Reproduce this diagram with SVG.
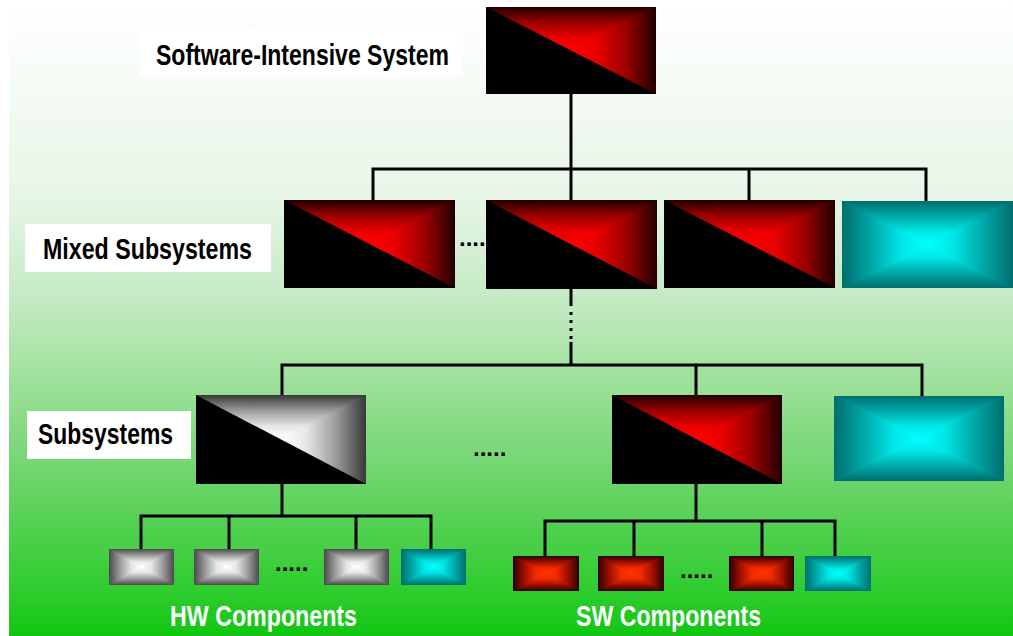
<svg xmlns="http://www.w3.org/2000/svg" width="1013" height="636" viewBox="0 0 1013 636">
  <defs>
    <!-- page background -->
    <linearGradient id="bg" x1="0" y1="0" x2="0" y2="1">
      <stop offset="0" stop-color="#ffffff"/>
      <stop offset="0.3" stop-color="#e8f6e8"/>
      <stop offset="0.47" stop-color="#c4eac4"/>
      <stop offset="0.57" stop-color="#a8e3a4"/>
      <stop offset="0.75" stop-color="#6ed46c"/>
      <stop offset="0.93" stop-color="#2ecc2e"/>
      <stop offset="1" stop-color="#12c612"/>
    </linearGradient>

    <!-- "from centre" shading: a symmetric horizontal fill underneath,
         with top/bottom triangles shaded vertically on top of it -->
    <linearGradient id="red-h" x1="0" y1="0" x2="1" y2="0">
      <stop offset="0" stop-color="#200000"/>
      <stop offset="0.175" stop-color="#9a0000"/>
      <stop offset="0.35" stop-color="#e80000"/>
      <stop offset="0.5" stop-color="#ff0000"/>
      <stop offset="0.65" stop-color="#e80000"/>
      <stop offset="0.825" stop-color="#9a0000"/>
      <stop offset="1" stop-color="#200000"/>
    </linearGradient>
    <linearGradient id="red-t" x1="0" y1="0" x2="0" y2="1">
      <stop offset="0" stop-color="#200000"/>
      <stop offset="0.35" stop-color="#9a0000"/>
      <stop offset="0.7" stop-color="#e80000"/>
      <stop offset="1" stop-color="#ff0000"/>
    </linearGradient>

    <linearGradient id="gry-h" x1="0" y1="0" x2="1" y2="0">
      <stop offset="0" stop-color="#383838"/>
      <stop offset="0.175" stop-color="#9a9a9a"/>
      <stop offset="0.35" stop-color="#e6e6e6"/>
      <stop offset="0.5" stop-color="#ffffff"/>
      <stop offset="0.65" stop-color="#e6e6e6"/>
      <stop offset="0.825" stop-color="#9a9a9a"/>
      <stop offset="1" stop-color="#383838"/>
    </linearGradient>
    <linearGradient id="gry-t" x1="0" y1="0" x2="0" y2="1">
      <stop offset="0" stop-color="#383838"/>
      <stop offset="0.35" stop-color="#9a9a9a"/>
      <stop offset="0.7" stop-color="#e6e6e6"/>
      <stop offset="1" stop-color="#ffffff"/>
    </linearGradient>

    <linearGradient id="cyn-h" x1="0" y1="0" x2="1" y2="0">
      <stop offset="0" stop-color="#006e6e"/>
      <stop offset="0.175" stop-color="#00a8a8"/>
      <stop offset="0.35" stop-color="#00e6e6"/>
      <stop offset="0.5" stop-color="#00ffff"/>
      <stop offset="0.65" stop-color="#00e6e6"/>
      <stop offset="0.825" stop-color="#00a8a8"/>
      <stop offset="1" stop-color="#006e6e"/>
    </linearGradient>
    <linearGradient id="cyn-t" x1="0" y1="0" x2="0" y2="1">
      <stop offset="0" stop-color="#006e6e"/>
      <stop offset="0.35" stop-color="#00a8a8"/>
      <stop offset="0.7" stop-color="#00e6e6"/>
      <stop offset="1" stop-color="#00ffff"/>
    </linearGradient>
    <linearGradient id="cyn-b" href="#cyn-t" x1="0" y1="1" x2="0" y2="0"/>

    <linearGradient id="sgr-h" x1="0" y1="0" x2="1" y2="0">
      <stop offset="0" stop-color="#4a4a4a"/>
      <stop offset="0.175" stop-color="#9c9c9c"/>
      <stop offset="0.35" stop-color="#e6e6e6"/>
      <stop offset="0.5" stop-color="#ffffff"/>
      <stop offset="0.65" stop-color="#e6e6e6"/>
      <stop offset="0.825" stop-color="#9c9c9c"/>
      <stop offset="1" stop-color="#4a4a4a"/>
    </linearGradient>
    <linearGradient id="sgr-t" x1="0" y1="0" x2="0" y2="1">
      <stop offset="0" stop-color="#4a4a4a"/>
      <stop offset="0.35" stop-color="#9c9c9c"/>
      <stop offset="0.7" stop-color="#e6e6e6"/>
      <stop offset="1" stop-color="#ffffff"/>
    </linearGradient>
    <linearGradient id="sgr-b" href="#sgr-t" x1="0" y1="1" x2="0" y2="0"/>

    <linearGradient id="org-h" x1="0" y1="0" x2="1" y2="0">
      <stop offset="0" stop-color="#2a0000"/>
      <stop offset="0.175" stop-color="#a01000"/>
      <stop offset="0.35" stop-color="#f02a00"/>
      <stop offset="0.5" stop-color="#ff3300"/>
      <stop offset="0.65" stop-color="#f02a00"/>
      <stop offset="0.825" stop-color="#a01000"/>
      <stop offset="1" stop-color="#2a0000"/>
    </linearGradient>
    <linearGradient id="org-t" x1="0" y1="0" x2="0" y2="1">
      <stop offset="0" stop-color="#2a0000"/>
      <stop offset="0.35" stop-color="#a01000"/>
      <stop offset="0.7" stop-color="#f02a00"/>
      <stop offset="1" stop-color="#ff3300"/>
    </linearGradient>
    <linearGradient id="org-b" href="#org-t" x1="0" y1="1" x2="0" y2="0"/>

    <!-- half-black split boxes (shading in the upper-right half) -->
    <symbol id="split-red" viewBox="0 0 100 100" preserveAspectRatio="none">
      <rect width="100" height="100" fill="url(#red-h)"/>
      <polygon points="0,0 100,0 50,50" fill="url(#red-t)"/>
      <polygon points="0,0 100,100 0,100" fill="#000"/>
    </symbol>
    <symbol id="split-gray" viewBox="0 0 100 100" preserveAspectRatio="none">
      <rect width="100" height="100" fill="url(#gry-h)"/>
      <polygon points="0,0 100,0 50,50" fill="url(#gry-t)"/>
      <polygon points="0,0 100,100 0,100" fill="#000"/>
    </symbol>
    <!-- fully shaded boxes -->
    <symbol id="pyr-cyan" viewBox="0 0 100 100" preserveAspectRatio="none">
      <rect width="100" height="100" fill="url(#cyn-h)"/>
      <polygon points="0,0 100,0 50,50" fill="url(#cyn-t)"/>
      <polygon points="0,100 100,100 50,50" fill="url(#cyn-b)"/>
    </symbol>
    <symbol id="pyr-gray" viewBox="0 0 100 100" preserveAspectRatio="none">
      <rect width="100" height="100" fill="url(#sgr-h)"/>
      <polygon points="0,0 100,0 50,50" fill="url(#sgr-t)"/>
      <polygon points="0,100 100,100 50,50" fill="url(#sgr-b)"/>
    </symbol>
    <symbol id="pyr-orange" viewBox="0 0 100 100" preserveAspectRatio="none">
      <rect width="100" height="100" fill="url(#org-h)"/>
      <polygon points="0,0 100,0 50,50" fill="url(#org-t)"/>
      <polygon points="0,100 100,100 50,50" fill="url(#org-b)"/>
    </symbol>
  </defs>
  <style>
    .wire { fill: none; stroke: #000; stroke-width: 3; }
    .dotted { fill: none; stroke: #000; stroke-width: 3; stroke-dasharray: 3 5; }
    .lab { font-family: "Liberation Sans", Arial, sans-serif; font-weight: bold; font-size: 29px; }
    .dots { font-family: "Liberation Sans", Arial, sans-serif; font-weight: bold; font-size: 24px; fill: #000; }
    .plate { fill: #fff; }
  </style>

  <rect x="9" y="0" width="1004" height="636" fill="url(#bg)"/>

  <!-- connectors -->
  <g id="connectors">
    <path class="wire" d="M571 94V200"/>
    <path class="wire" d="M373 200V169H926V201M749 169V200"/>
    <path class="wire" d="M571 289V306M571 342V365"/>
    <path class="dotted" d="M571 312V342"/>
    <path class="wire" d="M282 395V365H922V396M696 365V395"/>
    <path class="wire" d="M282 484V516M141 549V516H431V549M229 516V549M356 516V549"/>
    <path class="wire" d="M696 484V521M545 556V521H835V556M634 521V556M762 521V556"/>
  </g>

  <!-- top level -->
  <g id="system">
    <use href="#split-red" x="486" y="7" width="170" height="87"/>
  </g>
  <g id="label-system">
    <rect class="plate" x="140" y="29" width="323" height="48"/>
    <text class="lab" x="156" y="65" textLength="293" lengthAdjust="spacingAndGlyphs">Software-Intensive System</text>
  </g>

  <!-- mixed subsystems -->
  <g id="label-mixed">
    <rect class="plate" x="25" y="224" width="246" height="48"/>
    <text class="lab" x="43" y="259" textLength="209" lengthAdjust="spacingAndGlyphs">Mixed Subsystems</text>
  </g>
  <g id="mixed-1"><use href="#split-red" x="284" y="200" width="171" height="88"/></g>
  <g id="mixed-gap"><text class="dots" x="459" y="246" font-size="22">....</text></g>
  <g id="mixed-2"><use href="#split-red" x="486" y="200" width="171" height="89"/></g>
  <g id="mixed-3"><use href="#split-red" x="664" y="200" width="171" height="88"/></g>
  <g id="mixed-4"><use href="#pyr-cyan" x="842" y="201" width="171" height="87"/></g>

  <!-- subsystems -->
  <g id="label-sub">
    <rect class="plate" x="27" y="411" width="164" height="48"/>
    <text class="lab" x="38" y="444" font-size="27" textLength="135" lengthAdjust="spacingAndGlyphs">Subsystems</text>
  </g>
  <g id="sub-hw"><use href="#split-gray" x="196" y="395" width="170" height="89"/></g>
  <g id="sub-gap"><text class="dots" x="473" y="456">.....</text></g>
  <g id="sub-sw"><use href="#split-red" x="612" y="395" width="170" height="89"/></g>
  <g id="sub-other"><use href="#pyr-cyan" x="834" y="396" width="170" height="85"/></g>

  <!-- hardware components -->
  <g id="hw-1"><use href="#pyr-gray" x="109" y="549" width="65" height="36"/></g>
  <g id="hw-2"><use href="#pyr-gray" x="194" y="549" width="65" height="36"/></g>
  <g id="hw-gap"><text class="dots" x="275" y="571">.....</text></g>
  <g id="hw-3"><use href="#pyr-gray" x="324" y="549" width="65" height="36"/></g>
  <g id="hw-4"><use href="#pyr-cyan" x="401" y="549" width="65" height="36"/></g>
  <g id="label-hw">
    <text class="lab" x="170" y="626" fill="#fff" textLength="187" lengthAdjust="spacingAndGlyphs">HW Components</text>
  </g>

  <!-- software components -->
  <g id="sw-1"><use href="#pyr-orange" x="513" y="556" width="66" height="35"/></g>
  <g id="sw-2"><use href="#pyr-orange" x="598" y="556" width="66" height="35"/></g>
  <g id="sw-gap"><text class="dots" x="680" y="578">.....</text></g>
  <g id="sw-3"><use href="#pyr-orange" x="729" y="556" width="65" height="35"/></g>
  <g id="sw-4"><use href="#pyr-cyan" x="805" y="556" width="66" height="35"/></g>
  <g id="label-sw">
    <text class="lab" x="576" y="626" fill="#fff" textLength="185" lengthAdjust="spacingAndGlyphs">SW Components</text>
  </g>
</svg>
